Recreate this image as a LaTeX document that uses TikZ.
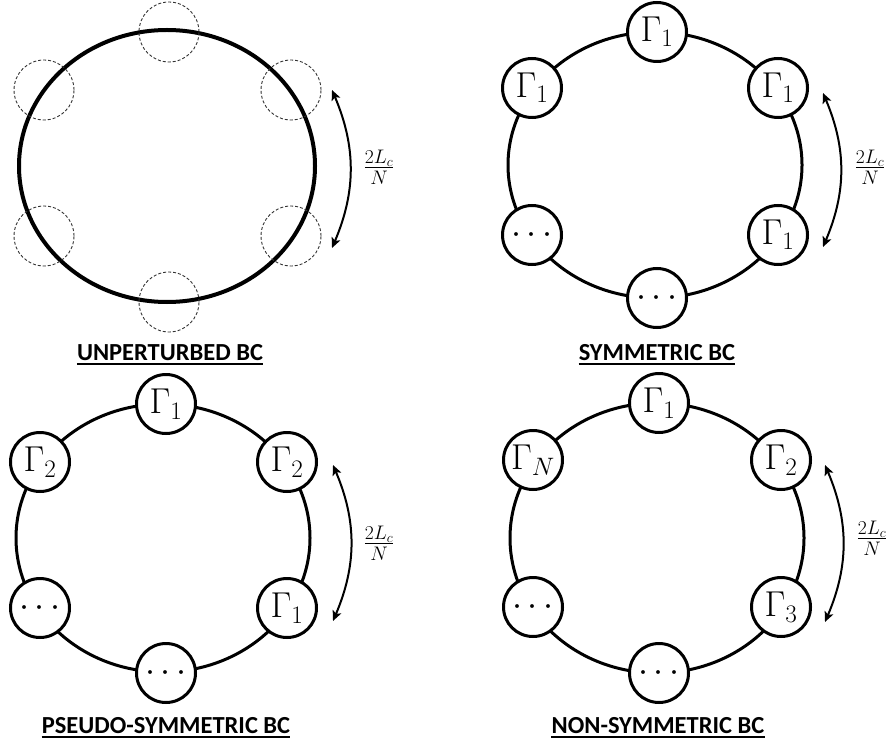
\RequirePackage{fix-cm}
\documentclass[tikz,border=0pt]{standalone}
\usepackage{fontspec}
\newfontfamily\titlefont{Carlito}
\usetikzlibrary{arrows.meta}
\tikzset{
 ring/.style={line width=3pt},
 bc/.style={circle, draw, line width=3pt, fill=white, minimum size=59pt, inner sep=0pt, font=\fontsize{36}{38}\selectfont},
 ghost/.style={circle, draw=black!80, line width=0.9pt, dash pattern=on 3pt off 2pt, minimum size=60pt, inner sep=0pt},
 span/.style={{Stealth[length=10pt,width=9pt,inset=2pt]}-{Stealth[length=10pt,width=9pt,inset=2pt]}, line width=2pt, bend left=23},
 lab/.style={font=\fontsize{28}{30}\selectfont, inner sep=0pt},
 ttl/.style={inner sep=0pt, anchor=base, font=\titlefont\bfseries\fontsize{24.5}{26}\selectfont},
 uline/.style={line width=2pt}
}
\begin{document}
\begin{tikzpicture}[x=1pt,y=-1pt]
\useasboundingbox (0,0) rectangle (890,743);
% ---------- top left: unperturbed
\begin{scope}[shift={(167,166)}, name prefix=tl-]
  \draw[line width=4pt] (0,0) ellipse [x radius=148, y radius=136];
  \node[ghost] (c1) at (2,-134) {};
  \node[ghost] (c2) at (124,-76) {};
  \node[ghost] (c3) at (124,70) {};
  \node[ghost] (c4) at (2,136) {};
  \node[ghost] (c5) at (-123,70) {};
  \node[ghost] (c6) at (-123,-76) {};
  \coordinate (a1) at (165,-76);
  \coordinate (a2) at (165,82);
  \draw[span] (a1) to (a2);
  \node[lab] (f) at (212,1) {$\frac{2L_c}{N}$};
  \node[ttl] (t) at (3,194) {UNPERTURBED BC};
  \draw[uline] ([yshift=-3.5pt]t.base west) -- ([yshift=-3.5pt]t.base east);
\end{scope}
% ---------- top right: symmetric
\begin{scope}[shift={(655,165)}, name prefix=tr-]
  \draw[ring] (0,0) ellipse [x radius=147, y radius=133];
  \node[bc] (c1) at (2,-133) {$\Gamma_1$};
  \node[bc] (c2) at (123,-77) {$\Gamma_1$};
  \node[bc] (c3) at (123,70) {$\Gamma_1$};
  \node[bc] (c4) at (2,133) {$\cdots$};
  \node[bc] (c5) at (-123,70) {$\cdots$};
  \node[bc] (c6) at (-123,-77) {$\Gamma_1$};
  \coordinate (a1) at (168,-72);
  \coordinate (a2) at (168,82);
  \draw[span] (a1) to (a2);
  \node[lab] (f) at (215,2) {$\frac{2L_c}{N}$};
  \node[ttl] (t) at (2,195) {SYMMETRIC BC};
  \draw[uline] ([yshift=-3.5pt]t.base west) -- ([yshift=-3.5pt]t.base east);
\end{scope}
% ---------- bottom left: pseudo-symmetric
\begin{scope}[shift={(163,538)}, name prefix=bl-]
  \draw[ring] (0,0) ellipse [x radius=147, y radius=134];
  \node[bc] (c1) at (3,-134) {$\Gamma_1$};
  \node[bc] (c2) at (124,-76) {$\Gamma_2$};
  \node[bc] (c3) at (124,70) {$\Gamma_1$};
  \node[bc] (c4) at (3,135) {$\cdots$};
  \node[bc] (c5) at (-123,70) {$\cdots$};
  \node[bc] (c6) at (-123,-76) {$\Gamma_2$};
  \coordinate (a1) at (170,-73);
  \coordinate (a2) at (170,83);
  \draw[span] (a1) to (a2);
  \node[lab] (f) at (216,5) {$\frac{2L_c}{N}$};
  \node[ttl] (t) at (3,195) {PSEUDO-SYMMETRIC BC};
  \draw[uline] ([yshift=-3.5pt]t.base west) -- ([yshift=-3.5pt]t.base east);
\end{scope}
% ---------- bottom right: non-symmetric
\begin{scope}[shift={(657,538)}, name prefix=br-]
  \draw[ring] (0,0) ellipse [x radius=147, y radius=135];
  \node[bc] (c1) at (2,-135) {$\Gamma_1$};
  \node[bc] (c2) at (124,-78) {$\Gamma_2$};
  \node[bc] (c3) at (124,69) {$\Gamma_3$};
  \node[bc] (c4) at (2,135) {$\cdots$};
  \node[bc] (c5) at (-124,69) {$\cdots$};
  \node[bc] (c6) at (-124,-78) {$\Gamma_N$};
  \coordinate (a1) at (168,-73);
  \coordinate (a2) at (168,84);
  \draw[span] (a1) to (a2);
  \node[lab] (f) at (215,0) {$\frac{2L_c}{N}$};
  \node[ttl] (t) at (1,195) {NON-SYMMETRIC BC};
  \draw[uline] ([yshift=-3.5pt]t.base west) -- ([yshift=-3.5pt]t.base east);
\end{scope}
\end{tikzpicture}
\end{document}
